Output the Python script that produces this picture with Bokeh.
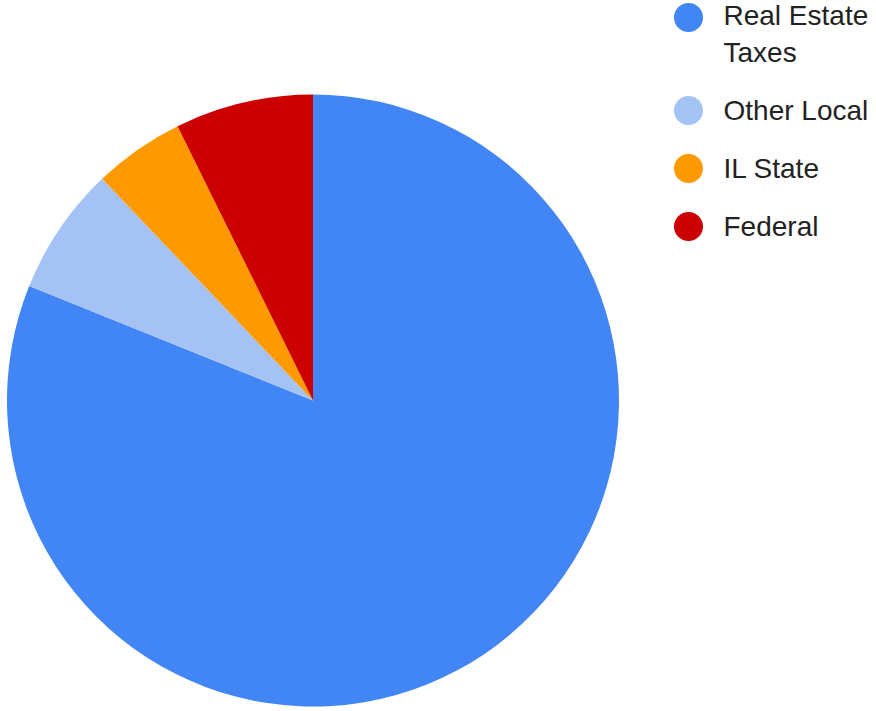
import math
from bokeh.plotting import figure
from bokeh.models import ColumnDataSource
from bokeh.core.properties import value
from bokeh.embed import file_html
from bokeh.resources import INLINE

categories = ["Real Estate\nTaxes", "Other Local", "IL State", "Federal"]
shares = [81.1, 6.8, 4.8, 7.3]
colors = ["#4285F4", "#A4C2F4", "#FF9900", "#CC0000"]

W, H = 876, 711
p = figure(width=W, height=H, x_range=(0, W), y_range=(0, H),
           output_backend="svg", toolbar_location=None,
           x_axis_type=None, y_axis_type=None, min_border=0)
p.grid.visible = False
p.outline_line_color = None
p.background_fill_color = "white"
p.border_fill_color = "white"

cx, cy, r = 312.5, H - 400, 306
total = sum(shares)
starts, ends = [], []
acc = 0.0
for s in shares:
    starts.append(math.pi / 2 - 2 * math.pi * acc / total)
    acc += s
    ends.append(math.pi / 2 - 2 * math.pi * acc / total)

src = ColumnDataSource(dict(start=starts, end=ends, color=colors))
p.wedge(x=cx, y=cy, radius=r, start_angle="start", end_angle="end",
        direction="clock", fill_color="color", line_color=None, source=src)

# legend
marker_y = [H - 17, H - 110, H - 168, H - 226]
line_h = 33
text_y = []
for lab, my in zip(categories, marker_y):
    n = lab.count("\n") + 1
    text_y.append(my - (n - 1) * line_h / 2)
leg = ColumnDataSource(dict(mx=[688] * 4, my=marker_y, tx=[723] * 4,
                            ty=text_y, label=categories, color=colors))
p.scatter(x="mx", y="my", size=29, marker="circle", fill_color="color",
          line_color=None, source=leg)
p.text(x="tx", y="ty", text="label", source=leg,
       text_font=value("Liberation Sans"), text_font_size="28px",
       text_color="#222222", text_baseline="middle", text_align="left",
       text_line_height=line_h / 28)

open("out.html", "w").write(file_html(p, INLINE))
